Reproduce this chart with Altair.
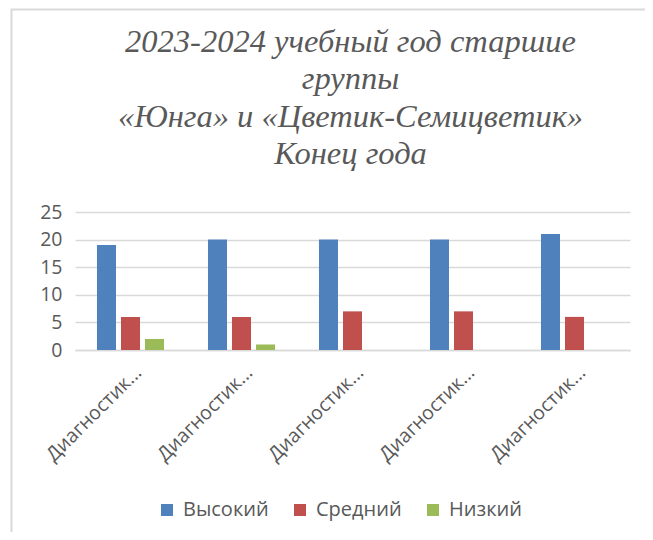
import altair as alt
import pandas as pd

categories = ["Диагностика 1", "Диагностика 2", "Диагностика 3", "Диагностика 4", "Диагностика 5"]
levels = ["Высокий", "Средний", "Низкий"]
high = [19, 20, 20, 20, 21]
mid = [6, 6, 7, 7, 6]
low = [2, 1, 0, 0, 0]
colors = ["#4F81BD", "#C0504D", "#9BBB59"]
title_lines = ["2023-2024 учебный год старшие", "группы", "«Юнга» и «Цветик-Семицветик»", "Конец года"]

rows = []
for i, c in enumerate(categories):
    for lev, vals in zip(levels, [high, mid, low]):
        rows.append({"cat": c, "level": lev, "value": vals[i]})
df = pd.DataFrame(rows)

LABEL_FONT = "Open Sans"
GRAY = "#595959"

bars = alt.Chart(df).mark_bar().encode(
    x=alt.X("cat:N", sort=categories,
            scale=alt.Scale(paddingInner=0.396, paddingOuter=0.198),
            axis=alt.Axis(title=None, labelAngle=-45, labelAlign="right", labelBaseline="middle",
                          labelExpr="slice(datum.label, 0, 10) + '...'",
                          labelFont=LABEL_FONT, labelFontSize=19.5, labelColor=GRAY,
                          labelPadding=19, labelOffset=8, ticks=False,
                          domainColor="#D9D9D9", domainWidth=1.5)),
    xOffset=alt.XOffset("level:N", sort=levels, scale=alt.Scale(paddingInner=0.208)),
    y=alt.Y("value:Q", scale=alt.Scale(domain=[0, 25]),
            axis=alt.Axis(title=None, values=[0, 5, 10, 15, 20, 25], domain=False, ticks=False,
                          labelFont=LABEL_FONT, labelFontSize=19.5, labelColor=GRAY, labelPadding=13,
                          gridColor="#D9D9D9", gridWidth=1.5)),
    color=alt.Color("level:N", sort=levels,
                    scale=alt.Scale(domain=levels, range=colors),
                    legend=alt.Legend(title=None, orient="none", direction="horizontal",
                                      legendX=82, legendY=288, symbolType="square", symbolSize=144,
                                      symbolStrokeWidth=0, symbolOpacity=1,
                                      labelFont=LABEL_FONT, labelFontSize=20, labelColor=GRAY,
                                      columnPadding=21, labelOffset=6)),
)

frame_left = alt.Chart(pd.DataFrame({"a": [0]})).mark_rule(color="#D9D9D9", strokeWidth=2).encode(
    x=alt.value(-63.5), y=alt.value(-202.5), y2=alt.value(330))
frame_top = alt.Chart(pd.DataFrame({"a": [0]})).mark_rule(color="#D9D9D9", strokeWidth=2).encode(
    x=alt.value(-64.5), x2=alt.value(580), y=alt.value(-202.5))

chart = alt.layer(frame_left, frame_top, bars).properties(
    width=555, height=138,
    title=alt.TitleParams(text=title_lines, font="Liberation Serif", fontStyle="italic",
                          fontWeight="normal", fontSize=32.5, color=GRAY, lineHeight=37.5,
                          anchor="middle", offset=-162, dx=-2),
    autosize=alt.AutoSizeParams(type="none"),
    padding={"left": 67, "top": 204, "right": 15, "bottom": 182},
).configure_view(stroke=None)

chart.save("out.html", embed_options={"renderer": "svg", "actions": False})
